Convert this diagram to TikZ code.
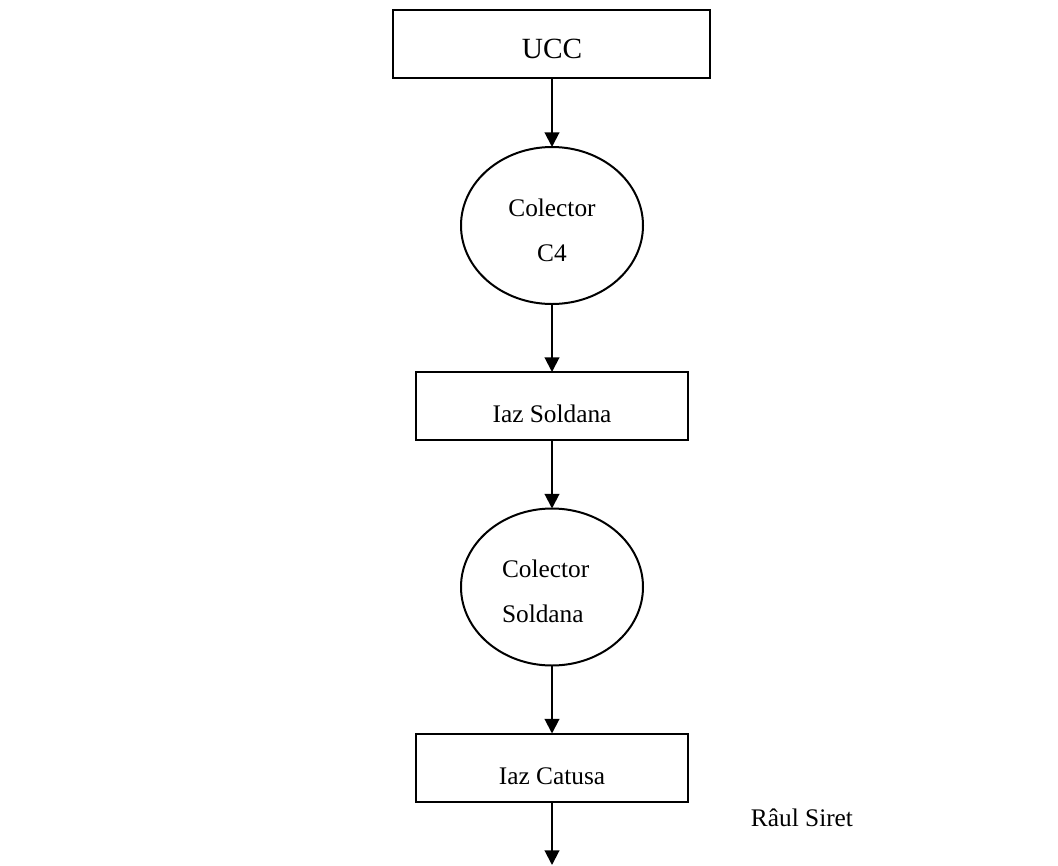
\documentclass[tikz,border=0pt]{standalone}
\usepackage{fontspec}
\setmainfont{Liberation Serif}
\usetikzlibrary{shapes.geometric,arrows.meta}
\begin{document}
\begin{tikzpicture}[x=0.75pt,y=-0.75pt,
  every node/.style={inner sep=0pt, outer sep=0pt},
  line/.style={line width=1.5pt},
  flow/.style={line, -{Triangle[width=11pt,length=11pt]}},
  stagebox/.style={draw, line width=1.5pt, rectangle, minimum width=272*0.75pt, minimum height=68*0.75pt},
  pool/.style={draw, line width=1.5pt, ellipse, minimum width=182*0.75pt, minimum height=157*0.75pt},
  lbl/.style={font=\fontsize{19}{22}\selectfont, anchor=base},
  lblw/.style={font=\fontsize{19}{22}\selectfont, anchor=base west}]
\useasboundingbox (0,0) rectangle (1058,865);

% boxes and collectors
\node[stagebox, minimum width=317*0.75pt] (ucc) at (551.5,44) {};
\node[lbl, font=\fontsize{22}{26}\selectfont] at (552,58) {UCC};

\node[pool] (c4) at (552,225.5) {};
\node[lbl] at (552,216) {Colector};
\node[lbl] at (552,261) {C4};

\node[stagebox] (soldana) at (552,406) {};
\node[lbl] at (552,422) {Iaz Soldana};

\node[pool] (csold) at (552,587) {};
\node[lblw] at (502,577) {Colector};
\node[lblw] at (502,622) {Soldana};

\node[stagebox] (catusa) at (552,767.5) {};
\node[lbl] at (552,784) {Iaz Catusa};

\node[lbl] (siret) at (802,826) {Râul Siret};
\coordinate (out) at (552,865);

% flow connectors
\draw[flow] (ucc.south -| c4.north) -- (c4.north);
\draw[flow] (c4.south) -- (soldana.north);
\draw[flow] (soldana.south) -- (csold.north);
\draw[flow] (csold.south) -- (catusa.north);
\draw[flow] (catusa.south) -- (out);
\end{tikzpicture}
\end{document}
